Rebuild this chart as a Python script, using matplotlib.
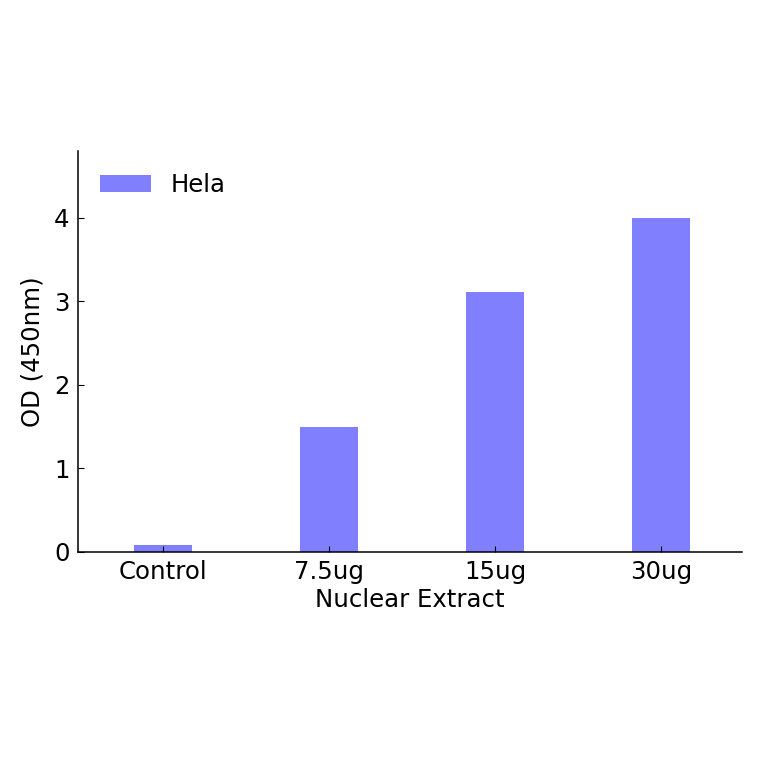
import numpy as np
from matplotlib import pyplot as plt

categories = ["Control", "7.5ug", "15ug", "30ug"]
hela_od = [0.08, 1.50, 3.11, 4.00]

if __name__ == "__main__":
    fig = plt.figure(figsize=(7.64, 7.64), dpi=100)
    ax = fig.add_axes([0.102, 0.278, 0.869, 0.524])

    x = np.arange(len(categories))
    ax.bar(x, hela_od, width=0.35, color="#8080ff", edgecolor="none", label="Hela")

    ax.set_xlim(-0.515, 3.485)
    ax.set_ylim(0, 4.8)
    ax.set_yticks([0, 1, 2, 3, 4])
    ax.set_xticks(x)
    ax.set_xticklabels(categories)

    ax.spines["top"].set_visible(False)
    ax.spines["right"].set_visible(False)
    for side in ("left", "bottom"):
        ax.spines[side].set_linewidth(1.1)
    ax.tick_params(direction="in", length=4, labelsize=17.6, pad=6)
    ax.tick_params(axis="x", top=False)
    ax.tick_params(axis="y", right=False)

    ax.set_xlabel("Nuclear Extract", fontsize=17.6, labelpad=3)
    ax.set_ylabel("OD (450nm)", fontsize=17.6, labelpad=7)
    ax.legend(loc="upper left", frameon=False, fontsize=17.6,
              handlelength=2.1, handleheight=0.7, handletextpad=0.8)

    fig.savefig("out.png", dpi=100)
